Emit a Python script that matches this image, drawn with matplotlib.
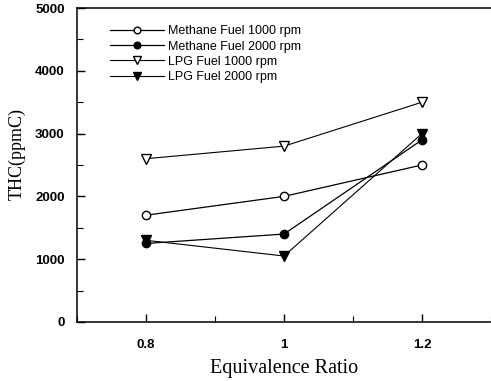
import matplotlib
matplotlib.use("Agg")
import matplotlib.pyplot as plt
import numpy as np
from matplotlib.ticker import MultipleLocator

# Equivalence ratio vs total hydrocarbons
ratio = [0.8, 1.0, 1.2]
methane_1000 = [1700, 2000, 2500]
methane_2000 = [1250, 1400, 2900]
lpg_1000 = [2600, 2800, 3500]
lpg_2000 = [1300, 1050, 3000]

fig = plt.figure(figsize=(4.91, 3.81), dpi=100)
ax = fig.add_axes([0.157, 0.155, 0.843, 0.824])

ax.plot(ratio, methane_1000, 'k-', marker='o', mfc='white', mec='black',
        ms=6, lw=0.9, label='Methane Fuel 1000 rpm')
ax.plot(ratio, methane_2000, 'k-', marker='o', mfc='black', mec='black',
        ms=6, lw=0.9, label='Methane Fuel 2000 rpm')
ax.plot(ratio, lpg_1000, 'k-', marker='v', mfc='white', mec='black',
        ms=6.5, lw=0.8, label='LPG Fuel 1000 rpm')
ax.plot(ratio, lpg_2000, 'k-', marker='v', mfc='black', mec='black',
        ms=6.5, lw=0.8, label='LPG Fuel 2000 rpm')

ax.set_xlim(0.7, 1.3)
ax.set_ylim(0, 5000)
ax.set_xticks([0.8, 1.0, 1.2])
ax.set_xticklabels(['0.8', '1', '1.2'])
ax.xaxis.set_minor_locator(MultipleLocator(0.1))
ax.yaxis.set_major_locator(MultipleLocator(1000))
ax.yaxis.set_minor_locator(MultipleLocator(500))
ax.tick_params(which='both', direction='in', top=False, right=False)
ax.tick_params(which='major', length=6, width=1)
ax.tick_params(which='minor', length=4, width=0.8)
ax.tick_params(axis='x', pad=12)
ax.tick_params(axis='y', pad=9)
ax.spines['right'].set_visible(False)
for s in ['left', 'bottom', 'top']:
    ax.spines[s].set_linewidth(1.1)

for lab in ax.get_xticklabels() + ax.get_yticklabels():
    lab.set_fontfamily('Liberation Sans')
    lab.set_fontweight('bold')
    lab.set_fontsize(9.5)

ax.set_xlabel('Equivalence Ratio', family='Liberation Serif', fontsize=14.5, labelpad=6)
ax.set_ylabel('THC(ppmC)', family='Liberation Serif', fontsize=13)
ax.yaxis.set_label_coords(-0.125, 0.535)

leg = ax.legend(loc='upper left', bbox_to_anchor=(0.08, 0.945), frameon=False,
                prop={'family': 'Liberation Sans', 'size': 9},
                borderpad=0, borderaxespad=0, markerscale=0.8,
                handlelength=4.3, handletextpad=0.3, labelspacing=0.26)

fig.savefig('out.png', dpi=100)
